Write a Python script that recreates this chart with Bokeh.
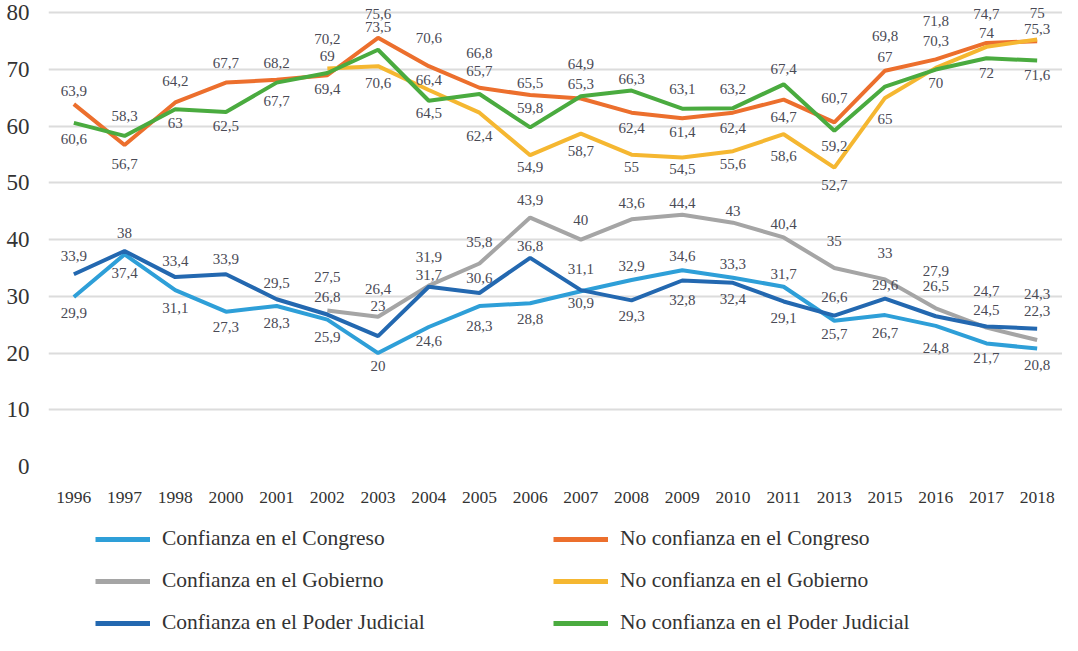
import math
from bokeh.plotting import figure
from bokeh.layouts import column
from bokeh.models import ColumnDataSource, FactorRange, Range1d, FixedTicker, Legend, LegendItem
from bokeh.embed import file_html
from bokeh.resources import INLINE
from bokeh.core.properties import value

nan = float("nan")

years = ["1996", "1997", "1998", "2000", "2001", "2002", "2003", "2004", "2005", "2006",
         "2007", "2008", "2009", "2010", "2011", "2013", "2015", "2016", "2017", "2018"]

conf_congreso = [29.9, 37.4, 31.1, 27.3, 28.3, 25.9, 20, 24.6, 28.3, 28.8,
                 30.9, 32.9, 34.6, 33.3, 31.7, 25.7, 26.7, 24.8, 21.7, 20.8]
no_conf_congreso = [63.9, 56.7, 64.2, 67.7, 68.2, 69, 75.6, 70.6, 66.8, 65.5,
                    64.9, 62.4, 61.4, 62.4, 64.7, 60.7, 69.8, 71.8, 74.7, 75]
conf_gobierno = [nan, nan, nan, nan, nan, 27.5, 26.4, 31.9, 35.8, 43.9,
                 40, 43.6, 44.4, 43, 40.4, 35, 33, 27.9, 24.5, 22.3]
no_conf_gobierno = [nan, nan, nan, nan, nan, 70.2, 70.6, 66.4, 62.4, 54.9,
                    58.7, 55, 54.5, 55.6, 58.6, 52.7, 65, 70.3, 74, 75.3]
conf_judicial = [33.9, 38, 33.4, 33.9, 29.5, 26.8, 23, 31.7, 30.6, 36.8,
                 31.1, 29.3, 32.8, 32.4, 29.1, 26.6, 29.6, 26.5, 24.7, 24.3]
no_conf_judicial = [60.6, 58.3, 63, 62.5, 67.7, 69.4, 73.5, 64.5, 65.7, 59.8,
                    65.3, 66.3, 63.1, 63.2, 67.4, 59.2, 67, 70, 72, 71.6]

y_ticks = [0, 10, 20, 30, 40, 50, 60, 70, 80]

names = ["Confianza en el Congreso", "No confianza en el Congreso",
         "Confianza en el Gobierno", "No confianza en el Gobierno",
         "Confianza en el Poder Judicial", "No confianza en el Poder Judicial"]

# styling: colours and label placement (pixel offsets, negative = above the line)
colors = ["#2e9fd8", "#ec6f2d", "#a5a5a5", "#f5b731", "#2368b0", "#4aab3f"]
label_offsets = [
    [16, 19, 18, 15, 17, 17, 13, 14, 20, 16, 12, -14, -14, -14, -13, 13, 18, 22, 15, 16],
    [-13, 19, -21, -20, -17, -19, -24, -28, -35, -12, -34, 15, 14, 15, 17, -24, -35, -38, -29, -28],
    [0, 0, 0, 0, 0, -34, -28, -29, -22, -18, -20, -16, -12, -12, -13, -27, -26, -37, -18, -29],
    [0, 0, 0, 0, 0, -29, 17, -10, 23, 12, 17, 12, 12, 13, 22, 17, 21, -27, -14, -11],
    [-18, -18, -16, -15, -16, -18, -30, -12, -15, -12, -21, 16, 19, 16, 17, -19, -14, -30, -35, -35],
    [16, -20, 14, 14, 18, 16, -23, 12, -23, -19, -12, -12, -20, -19, -15, 15, -30, 13, 15, 14],
]
series = [conf_congreso, no_conf_congreso, conf_gobierno, no_conf_gobierno, conf_judicial, no_conf_judicial]

FONT = "Liberation Serif"

p = figure(width=1062, height=506, x_range=FactorRange(factors=years), y_range=Range1d(0, 81.3),
           output_backend="svg", toolbar_location=None,
           min_border_left=48, min_border_right=0, min_border_top=5, min_border_bottom=40)
p.outline_line_color = None
p.xgrid.grid_line_color = None
p.ygrid.grid_line_color = "#dcdcdc"
p.ygrid.grid_line_width = 2
p.yaxis.ticker = FixedTicker(ticks=y_ticks)
for ax in (p.xaxis, p.yaxis):
    ax.axis_line_color = None
    ax.major_tick_line_color = None
    ax.minor_tick_line_color = None
    ax.major_label_text_font = FONT
    ax.major_label_text_color = "#333333"
p.yaxis.major_label_text_font_size = "23px"
p.yaxis.major_label_standoff = 13
p.xaxis.major_label_text_font_size = "17.5px"
p.xaxis.major_label_standoff = 19


def fmt(v):
    return f"{v:g}".replace(".", ",")


for vals, col in zip(series, colors):
    src = ColumnDataSource(dict(x=years, y=vals))
    p.line("x", "y", source=src, line_color=col, line_width=4)

for vals, offs in zip(series, label_offsets):
    xs, ys, ls, ds = [], [], [], []
    for yr, v, d in zip(years, vals, offs):
        if not math.isnan(v):
            xs.append(yr); ys.append(v); ls.append(fmt(v)); ds.append(d)
    lsrc = ColumnDataSource(dict(x=xs, y=ys, label=ls, dy=ds))
    p.text("x", "y", text="label", source=lsrc, y_offset="dy",
           text_font=value(FONT), text_font_size="15px", text_color="#4a4a55",
           text_align="center", text_baseline="middle")

# legend panel (dummy line renderers lie outside the visible range; only their legend swatches show)
q = figure(width=1062, height=129, x_range=Range1d(0, 1), y_range=Range1d(0, 1),
           x_axis_type=None, y_axis_type=None, output_backend="svg", toolbar_location=None,
           min_border=0)
q.outline_line_color = None
q.grid.visible = False
items = []
for name, col in zip(names, colors):
    r = q.line(x=[5, 6], y=[5, 6], line_color=col, line_width=5)
    items.append(LegendItem(label=name, renderers=[r]))

legend = Legend(items=items, location=(47, 0), orientation="horizontal", ncols=2,
                label_text_font=FONT, label_text_font_size="21.5px", label_text_color="#333333",
                glyph_width=55, glyph_height=20, label_height=20, label_standoff=12,
                label_width=374, spacing=17, padding=0, margin=0,
                border_line_color=None, background_fill_alpha=0)
q.add_layout(legend)

open("out.html", "w").write(file_html(column(p, q, spacing=0), INLINE))
